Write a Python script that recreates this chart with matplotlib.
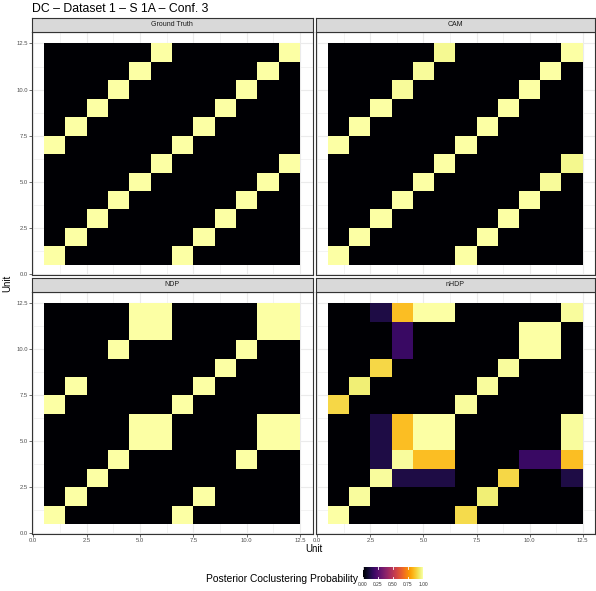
import numpy as np
import matplotlib
matplotlib.use("Agg")
import matplotlib.pyplot as plt

plt.rcParams['font.family'] = ['Liberation Sans', 'DejaVu Sans']

# ---------------- data ----------------
units = list(range(1, 13))
panel_titles = ["Ground Truth", "CAM", "NDP", "nHDP"]
title = "DC \u2013 Dataset 1 \u2013 S 1A \u2013 Conf. 3"
x_ticks = [0.0, 2.5, 5.0, 7.5, 10.0, 12.5]
legend_ticks = [0.00, 0.25, 0.50, 0.75, 1.00]

# rows listed from Unit 1 (bottom) to Unit 12 (top); columns Unit 1..12
ground_truth = [
    [1, 0, 0, 0, 0, 0, 1, 0, 0, 0, 0, 0],
    [0, 1, 0, 0, 0, 0, 0, 1, 0, 0, 0, 0],
    [0, 0, 1, 0, 0, 0, 0, 0, 1, 0, 0, 0],
    [0, 0, 0, 1, 0, 0, 0, 0, 0, 1, 0, 0],
    [0, 0, 0, 0, 1, 0, 0, 0, 0, 0, 1, 0],
    [0, 0, 0, 0, 0, 1, 0, 0, 0, 0, 0, 1],
    [1, 0, 0, 0, 0, 0, 1, 0, 0, 0, 0, 0],
    [0, 1, 0, 0, 0, 0, 0, 1, 0, 0, 0, 0],
    [0, 0, 1, 0, 0, 0, 0, 0, 1, 0, 0, 0],
    [0, 0, 0, 1, 0, 0, 0, 0, 0, 1, 0, 0],
    [0, 0, 0, 0, 1, 0, 0, 0, 0, 0, 1, 0],
    [0, 0, 0, 0, 0, 1, 0, 0, 0, 0, 0, 1],
]

cam = [
    [1, 0, 0, 0, 0, 0, 1, 0, 0, 0, 0, 0],
    [0, 1, 0, 0, 0, 0, 0, 1, 0, 0, 0, 0],
    [0, 0, 1, 0, 0, 0, 0, 0, 1, 0, 0, 0],
    [0, 0, 0, 1, 0, 0, 0, 0, 0, 1, 0, 0],
    [0, 0, 0, 0, 1, 0, 0, 0, 0, 0, 0.985, 0],
    [0, 0, 0, 0, 0, 1, 0, 0, 0, 0, 0, 0.975],
    [1, 0, 0, 0, 0, 0, 1, 0, 0, 0, 0, 0],
    [0, 1, 0, 0, 0, 0, 0, 1, 0, 0, 0, 0],
    [0, 0, 1, 0, 0, 0, 0, 0, 1, 0, 0, 0],
    [0, 0, 0, 0.985, 0, 0, 0, 0, 0, 1, 0, 0],
    [0, 0, 0, 0, 0.985, 0, 0, 0, 0, 0, 1, 0],
    [0, 0, 0, 0, 0, 0.98, 0, 0, 0, 0, 0, 1],
]

ndp = [
    [1, 0, 0, 0, 0, 0, 1, 0, 0, 0, 0, 0],
    [0, 1, 0, 0, 0, 0, 0, 1, 0, 0, 0, 0],
    [0, 0, 1, 0, 0, 0, 0, 0, 0, 0, 0, 0],
    [0, 0, 0, 1, 0, 0, 0, 0, 0, 1, 0, 0],
    [0, 0, 0, 0, 1, 1, 0, 0, 0, 0, 1, 1],
    [0, 0, 0, 0, 1, 1, 0, 0, 0, 0, 1, 1],
    [1, 0, 0, 0, 0, 0, 1, 0, 0, 0, 0, 0],
    [0, 1, 0, 0, 0, 0, 0, 1, 0, 0, 0, 0],
    [0, 0, 0, 0, 0, 0, 0, 0, 1, 0, 0, 0],
    [0, 0, 0, 1, 0, 0, 0, 0, 0, 1, 0, 0],
    [0, 0, 0, 0, 1, 1, 0, 0, 0, 0, 1, 1],
    [0, 0, 0, 0, 1, 1, 0, 0, 0, 0, 1, 1],
]

nhdp = [
    [1.00, 0, 0, 0, 0, 0, 0.91, 0, 0, 0, 0, 0],
    [0, 0.99, 0, 0, 0, 0, 0, 0.95, 0, 0, 0, 0],
    [0, 0, 0.99, 0.12, 0.12, 0.12, 0, 0, 0.90, 0, 0, 0.12],
    [0, 0, 0.12, 0.99, 0.85, 0.85, 0, 0, 0, 0.18, 0.18, 0.85],
    [0, 0, 0.12, 0.85, 1.00, 1.00, 0, 0, 0, 0, 0, 0.99],
    [0, 0, 0.12, 0.85, 1.00, 1.00, 0, 0, 0, 0, 0, 0.99],
    [0.90, 0, 0, 0, 0, 0, 0.99, 0, 0, 0, 0, 0],
    [0, 0.95, 0, 0, 0, 0, 0, 0.99, 0, 0, 0, 0],
    [0, 0, 0.90, 0, 0, 0, 0, 0, 0.99, 0, 0, 0],
    [0, 0, 0, 0.18, 0, 0, 0, 0, 0, 1.00, 1.00, 0],
    [0, 0, 0, 0.18, 0, 0, 0, 0, 0, 1.00, 1.00, 0],
    [0, 0, 0.12, 0.85, 1.00, 1.00, 0, 0, 0, 0, 0, 0.99],
]

matrices = [ground_truth, cam, ndp, nhdp]

# ---------------- figure ----------------
W, H = 596, 591
fig = plt.figure(figsize=(W / 100, H / 100), dpi=100)
cmap = plt.get_cmap('inferno')

def px_rect(x0, y0, x1, y1):
    return [x0 / W, 1 - y1 / H, (x1 - x0) / W, (y1 - y0) / H]

cols = [(32, 312.5), (316, 595)]
rows = [((18, 32), (32, 275)), ((277.5, 292), (292, 534))]

edges = np.array(units + [units[-1] + 1]) - 0.5
xlim = (-0.06, 13.08)
ylim = (-0.05, 13.12)
minor = [1.25, 3.75, 6.25, 8.75, 11.25]

for i, (mat, name) in enumerate(zip(matrices, panel_titles)):
    r, c = divmod(i, 2)
    (sy0, sy1), (py0, py1) = rows[r]
    cx0, cx1 = cols[c]
    ax = fig.add_axes(px_rect(cx0, py0, cx1, py1))
    ax.set_facecolor('white')
    ax.pcolormesh(edges, edges, np.array(mat, dtype=float), cmap=cmap,
                  vmin=0, vmax=1, shading='flat', zorder=2)
    ax.set_xlim(*xlim)
    ax.set_ylim(*ylim)
    ax.set_xticks(x_ticks)
    ax.set_yticks(x_ticks)
    ax.set_xticks(minor, minor=True)
    ax.set_yticks(minor, minor=True)
    ax.grid(True, which='major', color='#EBEBEB', linewidth=0.8, zorder=0)
    ax.grid(True, which='minor', color='#EBEBEB', linewidth=0.4, zorder=0)
    ax.set_axisbelow(True)
    ax.tick_params(which='minor', length=0)
    ax.tick_params(which='major', length=2, width=0.5, color='#333333',
                   labelsize=4.2, labelcolor='#4D4D4D', pad=1)
    if r == 0:
        ax.tick_params(axis='x', which='major', length=0, labelbottom=False)
    else:
        ax.set_xticklabels([f"{t:.1f}" for t in x_ticks])
    if c == 1:
        ax.tick_params(axis='y', which='major', length=0, labelleft=False)
    else:
        ax.set_yticklabels([f"{t:.1f}" for t in x_ticks])
    for s in ax.spines.values():
        s.set_color('#333333')
        s.set_linewidth(0.8)

    sax = fig.add_axes(px_rect(cx0, sy0, cx1, sy1))
    sax.set_facecolor('#D9D9D9')
    sax.set_xticks([])
    sax.set_yticks([])
    for s in sax.spines.values():
        s.set_color('#333333')
        s.set_linewidth(0.8)
    sax.text(0.5, 0.5, name, ha='center', va='center', fontsize=5.0,
             color='#1A1A1A', transform=sax.transAxes)

# titles and axis labels
fig.text(32 / W, 1 - 8.5 / H, title, fontsize=8.8, ha='left', va='center', color='black')
fig.text(313.5 / W, 1 - 549 / H, "Unit", fontsize=7, ha='center', va='center')
fig.text(7 / W, 1 - 283 / H, "Unit", fontsize=7, ha='center', va='center', rotation=90)

# legend colourbar
lax = fig.add_axes(px_rect(363, 567, 423, 579))
grad = np.linspace(0, 1, 256)[None, :]
lax.imshow(grad, cmap=cmap, aspect='auto', extent=(0, 1, 0, 1), vmin=0, vmax=1)
lax.set_xlim(0, 1)
lax.set_ylim(0, 1)
for t in legend_ticks:
    lax.plot([t, t], [0, 0.2], color='white', linewidth=0.6)
    lax.plot([t, t], [0.8, 1], color='white', linewidth=0.6)
lax.set_xticks([])
lax.set_yticks([])
for s in lax.spines.values():
    s.set_visible(False)
for t in legend_ticks:
    fig.text((363 + t * 60) / W, 1 - 584.5 / H, f"{t:.2f}", fontsize=3.5,
             ha='center', va='center', color='#333333')
fig.text(358 / W, 1 - 578.5 / H, "Posterior Coclustering Probability", fontsize=7.4,
         ha='right', va='center', color='black')

fig.savefig("out.png", dpi=100)
